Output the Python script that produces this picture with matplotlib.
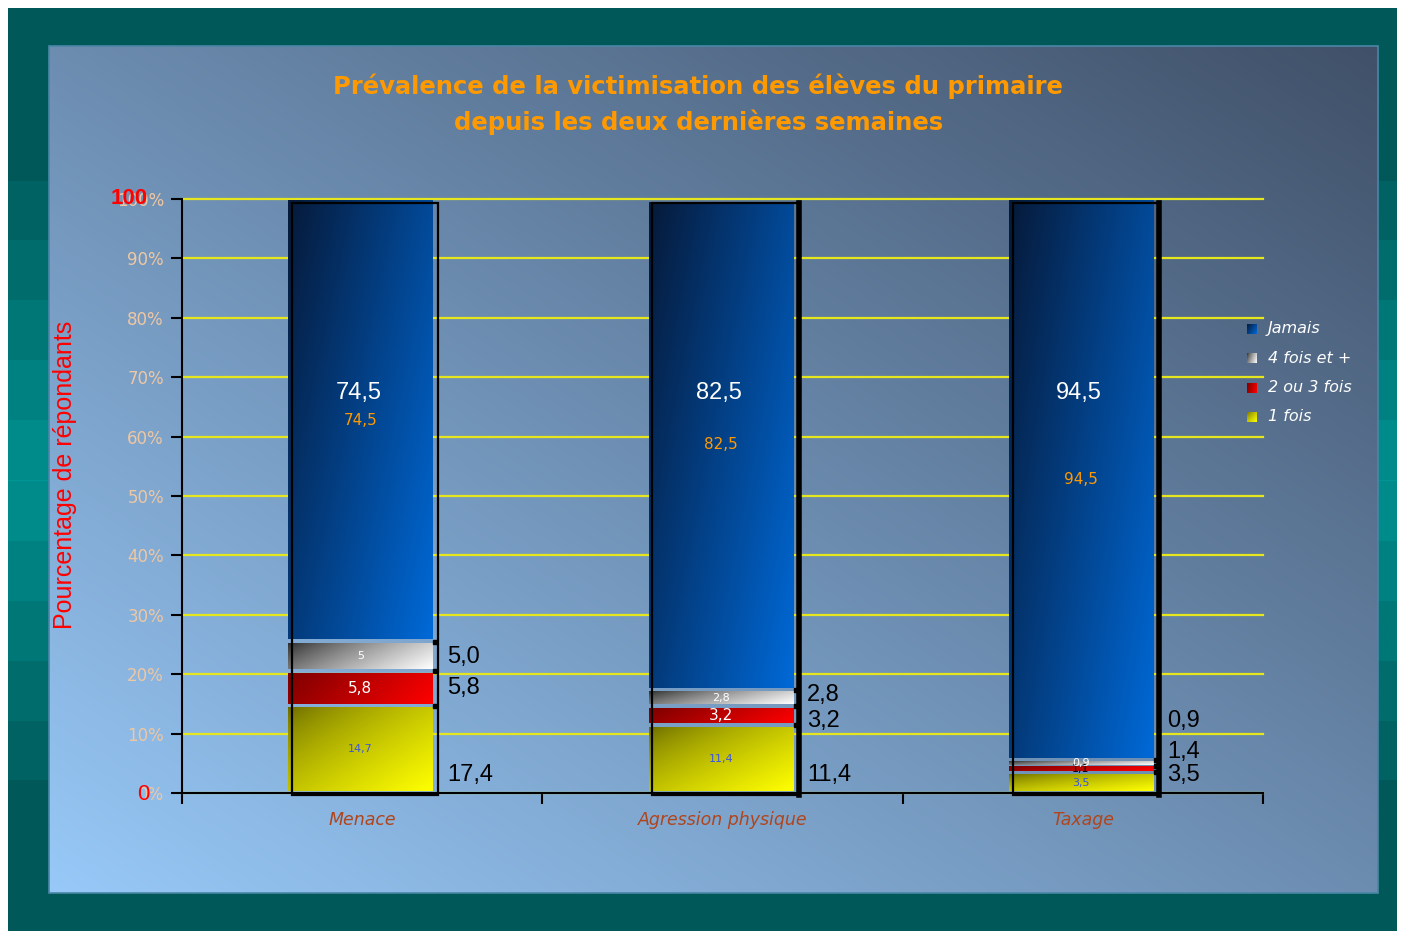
import numpy as np
import matplotlib
matplotlib.use("Agg")
import matplotlib.pyplot as plt
from matplotlib.transforms import blended_transform_factory
from matplotlib.patches import Rectangle

categories = ["Menace", "Agression physique", "Taxage"]
series = ["1 fois", "2 ou 3 fois", "4 fois et +", "Jamais"]

une_fois = [14.7, 11.4, 3.5]
deux_trois_fois = [5.8, 3.2, 1.1]
quatre_fois_plus = [5.0, 2.8, 0.9]
jamais = [74.5, 82.5, 94.5]

# notes written beside each bar, bottom to top
notes_text = [["17,4", "5,8", "5,0"], ["11,4", "3,2", "2,8"], ["3,5", "1,4", "0,9"]]
notes_y = [[3.0, 17.7, 22.9], [3.0, 12.1, 16.5], [3.0, 6.9, 12.1]]

y_ticks = list(range(0, 101, 10))
y_ticklabels = [f"{t}%" for t in y_ticks]

legend_order = ["Jamais", "4 fois et +", "2 ou 3 fois", "1 fois"]

W, H = 1405, 939


def gradient(c0, c1, wx, wy, gamma=1.0, n=64):
    u = np.linspace(0, 1, n)
    U, V = np.meshgrid(u, u)
    s = np.clip((wx * U + wy * V) / (wx + wy), 0, 1) ** gamma
    c0 = np.array(c0) / 255
    c1 = np.array(c1) / 255
    return c0 + (c1 - c0) * s[..., None]


fills = {
    "1 fois": gradient((105, 105, 0), (255, 255, 0), 0.55, 0.5, 0.7),
    "2 ou 3 fois": gradient((125, 0, 0), (255, 0, 0), 1.0, 0.2),
    "4 fois et +": gradient((45, 45, 45), (255, 255, 255), 0.8, 0.3, 0.8),
    "Jamais": gradient((6, 26, 58), (0, 105, 215), 0.6, 0.4),
}
label_style = {
    "1 fois": dict(color="#3a55e0", size=8),
    "2 ou 3 fois": dict(color="white", size=11),
    "4 fois et +": dict(color="white", size=8),
    "Jamais": dict(color="#ff9900", size=11),
}


def fmt(v):
    if v == int(v):
        return str(int(v))
    return f"{v:.1f}".replace(".", ",")


def fmt1(v):
    return f"{v:.1f}".replace(".", ",")


# background: white margin, teal frame, bluish panel
yy, xx = np.mgrid[0:H, 0:W]
bg = np.ones((H, W, 3))
band = np.clip(1 - np.abs(yy - 480) / 360, 0, 1)
band = np.floor(band * 6) / 6
dark = np.array([0, 88, 88]) / 255
peak = np.array([0, 150, 150]) / 255
frame = (xx >= 8) & (xx < 1397) & (yy >= 8) & (yy < 931)
bg[frame] = (dark + (peak - dark) * band[..., None])[frame]
px0, px1, py0, py1 = 49, 1378, 46, 893
panel = (xx >= px0) & (xx < px1) & (yy >= py0) & (yy < py1)
u = (xx - px0) / (px1 - px0)
v = (yy - py0) / (py1 - py0)
s = np.clip((u + 1 - v) / 2, 0, 1)
light = np.array([152, 201, 248]) / 255
slate = np.array([64, 80, 104]) / 255
bg[panel] = (light + (slate - light) * s[..., None])[panel]

fig = plt.figure(figsize=(W / 100, H / 100), dpi=100)
bg_ax = fig.add_axes([0, 0, 1, 1], zorder=-10)
bg_ax.imshow(bg, extent=[0, W, H, 0], aspect="auto", interpolation="bilinear")
bg_ax.set_xlim(0, W)
bg_ax.set_ylim(H, 0)
bg_ax.axis("off")
bg_ax.add_patch(Rectangle((px0, py0), px1 - px0, py1 - py0, fill=False,
                          ec="#4a86a6", lw=1.2))

# legend with small gradient swatches
for i, name in enumerate(legend_order):
    yc = 329 + i * 29.3
    bg_ax.imshow(fills[name], extent=[1247, 1257, yc + 5, yc - 5],
                 aspect="auto", interpolation="bilinear")
    bg_ax.text(1268, yc, name, color="white", style="italic", size=11.5,
               va="center", ha="left")

fig.text(0.497, 1 - 86 / H, "Prévalence de la victimisation des élèves du primaire",
         color="#ff9900", size=17.5, weight="bold", ha="center", va="center")
fig.text(0.497, 1 - 122 / H, "depuis les deux dernières semaines",
         color="#ff9900", size=17.5, weight="bold", ha="center", va="center")
fig.text(65 / W, 1 - 475 / H, "Pourcentage de répondants", color="red",
         size=18, family="Liberation Sans", rotation=90, ha="center", va="center")

ax = fig.add_axes([182 / W, 1 - 793 / H, 1081 / W, 594 / H])
ax.set_facecolor("none")
x = np.arange(len(categories))
bottom = np.zeros(len(categories))
bar_w = 0.4

for name, vals in zip(series, [une_fois, deux_trois_fois, quatre_fois_plus, jamais]):
    bars = ax.bar(x - 0.005, vals, width=bar_w, bottom=bottom, color="none",
                  edgecolor="none", zorder=3)
    for i, (b, val) in enumerate(zip(bars, vals)):
        x0, y0, w, h = b.get_x(), b.get_y(), b.get_width(), b.get_height()
        gap = min(0.35, h * 0.15)
        im = ax.imshow(fills[name], extent=[x0, x0 + w, y0 + gap, y0 + h - gap],
                       aspect="auto", interpolation="bilinear", zorder=3)
        im.set_clip_path(b)
        st = dict(label_style[name])
        if name == "2 ou 3 fois" and val < 2:
            st = dict(color="black", size=8)
        ax.text(x0 + w / 2, y0 + h / 2, fmt(val), ha="center",
                va="center", zorder=6, **st)
        if name != "Jamais":
            ax.plot(x0 + w + 0.008, y0 + h, marker="s", ms=3.5, color="black",
                    zorder=6, clip_on=False)
    bottom += np.array(vals)

for i, xi in enumerate(x):
    ax.add_patch(Rectangle((xi - bar_w / 2 + 0.005, -0.35), bar_w + 0.006, 99.65,
                           fill=False, ec="black", lw=1.6, zorder=5, clip_on=False))
    if i > 0:
        ax.plot([xi + bar_w / 2 + 0.011] * 2, [-0.35, 99.3], color="black",
                lw=4, zorder=5, clip_on=False)
    ax.text(xi - 0.01, 67.3, fmt1(jamais[i]), color="white", size=17,
            family="Liberation Sans", ha="center", va="center", zorder=6)
    for t, yv in zip(notes_text[i], notes_y[i]):
        ax.text(xi + 0.235, yv, t, color="black", size=17,
                family="Liberation Sans", ha="left", va="center", zorder=6)

ax.set_xlim(-0.5, 2.5)
ax.set_ylim(0, 100)
ax.set_yticks(y_ticks, y_ticklabels)
ax.tick_params(axis="y", colors="black", labelcolor="#efc7a2", labelsize=12,
               length=8, width=1.5, pad=5)
ax.set_xticks([-0.5, 0.5, 1.5, 2.5], ["", "", "", ""])
ax.set_xticks(x, categories, minor=True)
ax.tick_params(axis="x", which="major", length=8, width=1.5, colors="black")
ax.tick_params(axis="x", which="minor", length=0, pad=13, labelsize=12.5,
               labelcolor="#b0451c")
for lab in ax.get_xticklabels(minor=True):
    lab.set_style("italic")
ax.grid(axis="y", color="#e6e61e", lw=1.6, zorder=1)
for line in ax.get_ygridlines():
    line.set_clip_on(False)
ax.set_axisbelow(True)
for side in ["top", "right"]:
    ax.spines[side].set_visible(False)
for side in ["left", "bottom"]:
    ax.spines[side].set_linewidth(1.5)
    ax.spines[side].set_zorder(7)

tr = blended_transform_factory(ax.transAxes, ax.transData)
ax.text(-0.032, 100, "100", transform=tr, color="red", size=16, weight="bold",
        family="Liberation Sans", ha="right", va="center", zorder=8)
ax.text(-0.030, -0.3, "0", transform=tr, color="red", size=16,
        family="Liberation Sans", ha="right", va="center", zorder=8)

fig.savefig("out.png", dpi=100)
